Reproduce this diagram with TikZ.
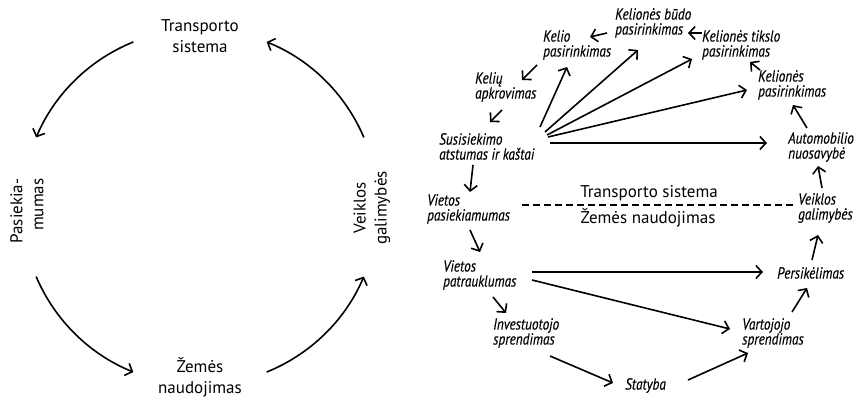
\documentclass[tikz,border=0pt]{standalone}
\usepackage{fontspec}
\setmainfont{PT Sans}
\newfontfamily\narrowit{PT Sans}[FakeStretch=0.83,FakeBold=0.3]
\usetikzlibrary{arrows.meta,positioning,calc}

\begin{document}
\begin{tikzpicture}[x=1pt,y=1pt,
    lbl/.style={font=\fontsize{17}{21}\selectfont,align=center,inner sep=0pt},
    it/.style={font=\fontsize{16}{15}\selectfont\narrowit\itshape,align=left,inner sep=0pt,anchor=north west},
    a/.style={-{Straight Barb[length=6pt,width=13pt]},line width=1.6pt},
    sep/.style={line width=1.6pt,dash pattern=on 7pt off 4pt}]
    \useasboundingbox (0,0) rectangle (856,397);
    % left: the cycle
    \coordinate (c) at (200,190);
    \node[lbl] (ts) at (200,361) {Transporto\\sistema};
    \node[lbl] (zn) at (200,20) {Žemės\\naudojimas};
    \node[lbl,align=right,rotate=90] (pa) at (27,186) {Pasiekia-\\mumas};
    \node[lbl,rotate=90] (vg) at (372,189) {Veiklos\\galimybės};
    \draw[a] ([shift={(112:178)}]c) arc[start angle=112,end angle=157,radius=178];
    \draw[a] ([shift={(203:178)}]c) arc[start angle=203,end angle=248,radius=178];
    \draw[a] ([shift={(292:178)}]c) arc[start angle=292,end angle=337,radius=178];
    \draw[a] ([shift={(23:178)}]c) arc[start angle=23,end angle=68,radius=178];
    % right: transport system
    \node[it] (kbudo) at (615,389) {Kelionės būdo\\pasirinkimas};
    \node[it] (kelio) at (543,367) {Kelio\\pasirinkimas};
    \node[it] (ktikslo) at (702,367) {Kelionės tikslo\\pasirinkimas};
    \node[it] (keliu) at (475,325) {Kelių\\apkrovimas};
    \node[it] (kelione) at (758,327) {Kelionės\\pasirinkimas};
    \node[it] (ssk) at (439,264) {Susisiekimo\\atstumas ir kaštai};
    \node[it] (auto) at (788,265) {Automobilio\\nuosavybė};
    % right: land use
    \node[it] (vpas) at (427,203) {Vietos\\pasiekiamumas};
    \node[it] (veik) at (798,204) {Veiklos\\galimybės};
    \node[it] (vpat) at (443,137) {Vietos\\patrauklumas};
    \node[it] (pers) at (777,130) {Persikėlimas};
    \node[it] (inv) at (493,79) {Investuotojo\\sprendimas};
    \node[it] (vart) at (742,79) {Vartojojo\\sprendimas};
    \node[it] (stat) at (625,19) {Statyba};
    \node[lbl] (tsl) at (649,204) {Transporto sistema};
    \node[lbl] (znl) at (648,179) {Žemės naudojimas};
    \draw[sep] ([shift={(95,-11)}]vpas.north west) -- ([shift={(-5,-12)}]veik.north west);
    \draw[a] ([shift={(0,-3)}]ktikslo.north west) -- ([shift={(73,-25)}]kbudo.north west);
    \draw[a] ([shift={(-8,-25)}]kbudo.north west) -- ([shift={(47,-7)}]kelio.north west);
    \draw[a] ([shift={(-6,-35)}]kelio.north west) -- ([shift={(47,-8)}]keliu.north west);
    \draw[a] ([shift={(27,-38)}]keliu.north west) -- ([shift={(51,11)}]ssk.north west);
    \draw[a] ([shift={(2,0)}]kelione.north west) -- ([shift={(48,-32)}]ktikslo.north west);
    \draw[a] ([shift={(19,4)}]auto.north west) -- ([shift={(35,-35)}]kelione.north west);
    \draw[a] ([shift={(24,5)}]veik.north west) -- ([shift={(30,-34)}]auto.north west);
    \draw[a] ([shift={(34,-32)}]ssk.north west) -- ([shift={(43,2)}]vpas.north west);
    \draw[a] ([shift={(101,6)}]ssk.north west) -- ([shift={(24,-37)}]kelio.north west);
    \draw[a] ([shift={(106,1)}]ssk.north west) -- ([shift={(23,-42)}]kbudo.north west);
    \draw[a] ([shift={(108,-2)}]ssk.north west) -- ([shift={(-10,-29)}]ktikslo.north west);
    \draw[a] ([shift={(109,-4)}]ssk.north west) -- ([shift={(-11,-20)}]kelione.north west);
    \draw[a] ([shift={(111,-10)}]ssk.north west) -- ([shift={(-21,-11)}]auto.north west);
    \draw[a] ([shift={(43,-36)}]vpas.north west) -- ([shift={(37,8)}]vpat.north west);
    \draw[a] ([shift={(89,-12)}]vpat.north west) -- ([shift={(-14,-5)}]pers.north west);
    \draw[a] ([shift={(89,-20)}]vpat.north west) -- ([shift={(-12,-11)}]vart.north west);
    \draw[a] ([shift={(50,-37)}]vpat.north west) -- ([shift={(13,5)}]inv.north west);
    \draw[a] ([shift={(57,-38)}]inv.north west) -- ([shift={(-12,-5)}]stat.north west);
    \draw[a] ([shift={(63,-2)}]stat.north west) -- ([shift={(6,-35)}]vart.north west);
    \draw[a] ([shift={(50,6)}]vart.north west) -- ([shift={(30,-21)}]pers.north west);
    \draw[a] ([shift={(35,7)}]pers.north west) -- ([shift={(20,-42)}]veik.north west);
\end{tikzpicture}
\end{document}
